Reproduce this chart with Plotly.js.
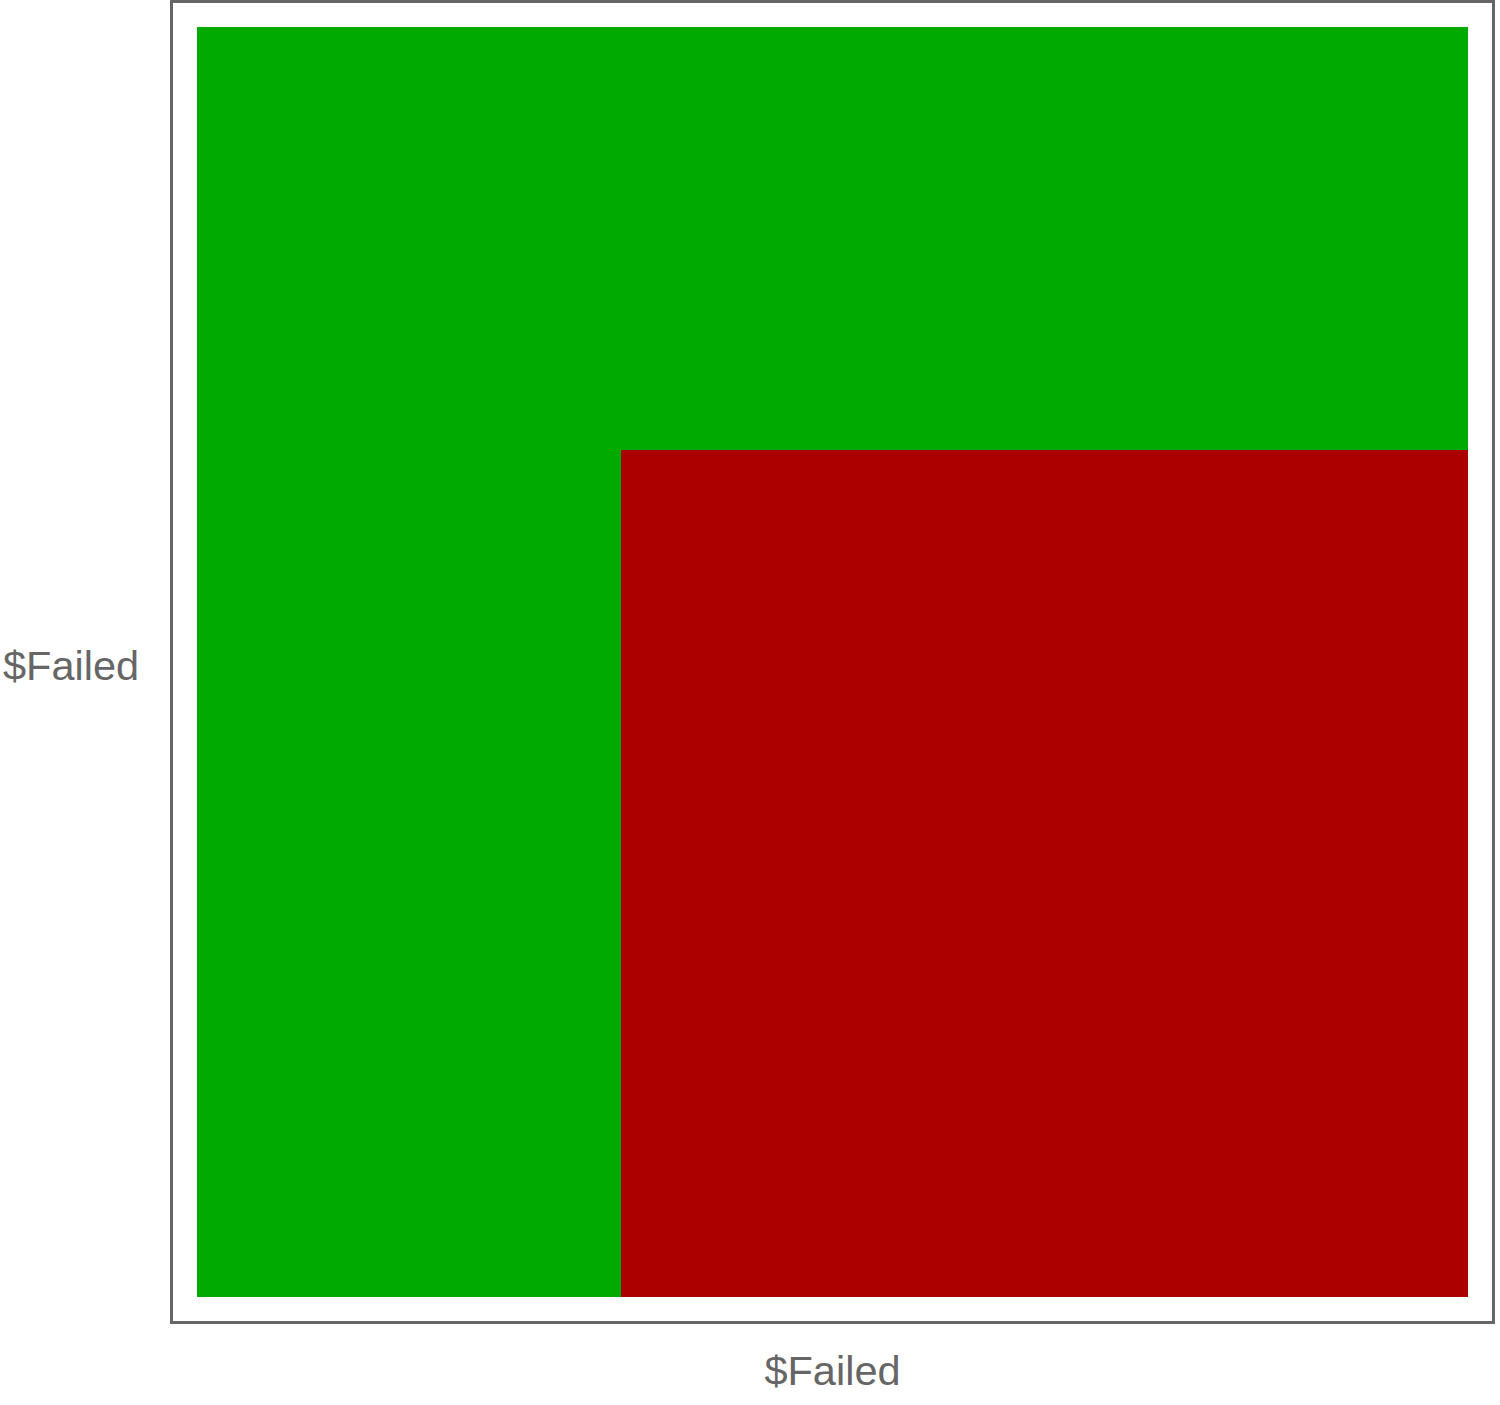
<!DOCTYPE html>
<html>
<head>
<meta charset="utf-8">
<script src="https://cdn.plot.ly/plotly-3.0.1.min.js"></script>
<style>html,body{margin:0;padding:0;background:#fff;}</style>
</head>
<body>
<div id="chart" style="width:1500px;height:1405px;"></div>
<script>
// Column / row indices of the grid
const xCats = [0, 1, 2];
const yCats = [0, 1, 2];
// Cell status per row (bottom row first): 0 = pass (green), 1 = failed (red)
const rowBottom = [0, 1, 1];
const rowMiddle = [0, 1, 1];
const rowTop = [0, 0, 0];
const xTitle = '$Failed';
const yTitle = '$Failed';

const pad = 0.0567;
const trace = {
  type: 'heatmap',
  x: xCats,
  y: yCats,
  z: [rowBottom, rowMiddle, rowTop],
  zmin: 0, zmax: 1,
  colorscale: [[0, '#00AA00'], [0.5, '#00AA00'], [0.5, '#AA0000'], [1, '#AA0000']],
  showscale: false,
  hoverinfo: 'skip'
};

const axisCommon = {
  showticklabels: false,
  ticks: '',
  showgrid: false,
  zeroline: false,
  showline: true,
  mirror: true,
  linecolor: '#666666',
  linewidth: 3,
  fixedrange: true
};

const layout = {
  width: 1500,
  height: 1405,
  margin: {l: 173, r: 8, t: 3, b: 84},
  paper_bgcolor: '#ffffff',
  plot_bgcolor: '#ffffff',
  font: {family: 'Liberation Sans, Arial, sans-serif', color: '#666666'},
  xaxis: Object.assign({}, axisCommon, {
    range: [-0.5 - pad, 2.5 + pad],
    title: {text: xTitle, font: {size: 41.5, color: '#666666'}, standoff: 33}
  }),
  yaxis: Object.assign({}, axisCommon, {
    range: [-0.5 - pad, 2.5 + pad]
  }),
  annotations: [{
    text: yTitle,
    xref: 'paper', yref: 'paper',
    x: -0.0239, y: 0.497,
    xanchor: 'right', yanchor: 'middle',
    showarrow: false,
    font: {size: 41.5, color: '#666666'}
  }],
  showlegend: false
};

Plotly.newPlot('chart', [trace], layout, {displayModeBar: false, staticPlot: true});
</script>
</body>
</html>
